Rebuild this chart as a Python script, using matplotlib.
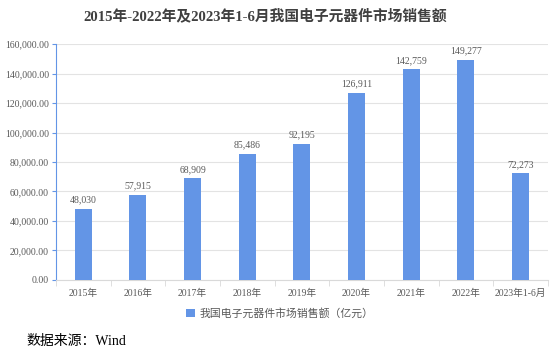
import matplotlib.pyplot as plt
from matplotlib.ticker import FuncFormatter, FixedLocator
import numpy as np

plt.rcParams["font.family"] = ["Liberation Serif", "Noto Sans CJK SC"]

CATEGORIES = ["2015年", "2016年", "2017年", "2018年", "2019年",
              "2020年", "2021年", "2022年", "2023年1-6月"]
SALES = [48030, 57915, 68909, 85486, 92195, 126911, 142759, 149277, 72273]
YTICKS = [0, 20000, 40000, 60000, 80000, 100000, 120000, 140000, 160000]

BAR_COLOR = "#6395e6"
TEXT_COLOR = "#595959"

fig = plt.figure(figsize=(5.54, 3.58), dpi=100)
ax = fig.add_axes([0.101, 0.218, 0.888, 0.659])

x = np.arange(len(CATEGORIES))
bars = ax.bar(x, SALES, width=0.31, color=BAR_COLOR, zorder=3,
              label="我国电子元器件市场销售额（亿元）")

for xi, v in zip(x, SALES):
    ax.text(xi, v + 3000, f"{v:,}", ha="center", va="bottom",
            fontsize=7, color=TEXT_COLOR)

ax.set_xlim(-0.5, len(CATEGORIES) - 0.5)
ax.set_ylim(0, 160000)
ax.set_yticks(YTICKS)
ax.yaxis.set_major_formatter(FuncFormatter(lambda v, p: f"{v:,.2f}"))
ax.grid(axis="y", color="#e3e3e3", linewidth=0.8, zorder=0)

ax.set_xticks(x)
ax.set_xticklabels(CATEGORIES)
ax.xaxis.set_minor_locator(FixedLocator(np.arange(-0.5, len(CATEGORIES), 1)))
ax.tick_params(axis="x", which="major", length=0, pad=6,
               labelsize=7, labelcolor=TEXT_COLOR)
ax.tick_params(axis="x", which="minor", length=4, color="#d9d9d9")
ax.tick_params(axis="y", length=3, color=BAR_COLOR, labelsize=7,
               labelcolor=TEXT_COLOR, pad=2)

for s in ["top", "right"]:
    ax.spines[s].set_visible(False)
ax.spines["left"].set_color(BAR_COLOR)
ax.spines["bottom"].set_color("#d9d9d9")

fig.text(0.478, 0.955, "2015年-2022年及2023年1-6月我国电子元器件市场销售额",
         ha="center", va="center", fontsize=10.6, fontweight="bold",
         color="#404040")

fig.legend(loc="center", bbox_to_anchor=(0.505, 0.125), frameon=False,
           fontsize=7.8, handlelength=0.8, handleheight=0.8,
           handletextpad=0.4, labelcolor=TEXT_COLOR)

fig.text(0.047, 0.045, "数据来源：Wind", ha="left", va="center",
         fontsize=10, color="black")

plt.savefig("out.png", dpi=100)
plt.close()
